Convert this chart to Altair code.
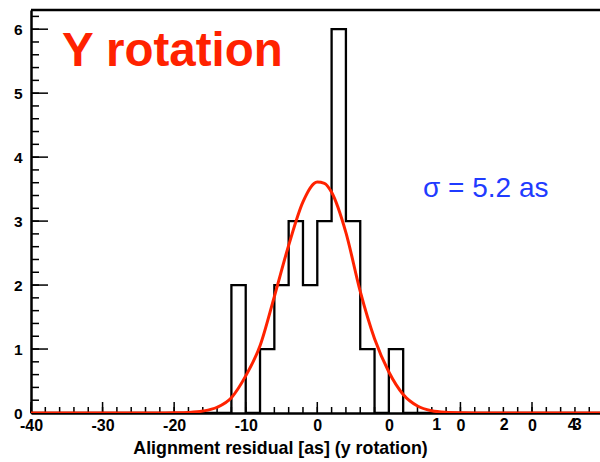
import altair as alt
import pandas as pd

# ---------------- data ----------------
bin_lefts = [-12, -10, -8, -6, -4, -2, 0, 2, 4, 6, 8, 10]
counts = [2, 0, 1, 2, 3, 2, 3, 6, 3, 1, 0, 1]

fit_x = [-40, -30, -22, -20, -18, -16, -14, -12, -10, -8, -6, -4, -2, 0, 1, 2, 4, 6, 8, 10, 12, 14, 16, 18, 20, 22, 30, 39.5]
fit_y = [0, 0, 0.001, 0.003, 0.009, 0.03, 0.09, 0.24, 0.58, 1.05, 1.82, 2.62, 3.3, 3.61, 3.59, 3.45, 2.82, 1.9, 1.16, 0.64, 0.29, 0.11, 0.035, 0.01, 0.003, 0.001, 0, 0]

x_tick_values = [-40, -30, -20, -10, 0, 10, 20, 30]
x_tick_labels = ["-40", "-30", "-20", "-10", "0", "0", "0", "0"]
stray_x = [16.7, 26.1, 35.6, 36.3]
stray_text = ["1", "2", "4", "3"]
y_tick_values = [0, 1, 2, 3, 4, 5, 6]

title_text = "Y rotation"
sigma_text = "σ = 5.2 as"
x_title = "Alignment residual [as] (y rotation)"

FONT = "Liberation Sans"
RED = "#ff2200"
BLUE = "#1f3bff"
W, H = 569, 403

# ---------------- tables ----------------
hx = [-40] + bin_lefts + [12, 39.5]
hy = [0] + counts + [0, 0]
hist_df = pd.DataFrame({"x": hx, "y": hy, "i": list(range(len(hx)))})
fit_df = pd.DataFrame({"x": fit_x, "y": fit_y})
stray_df = pd.DataFrame({"x": stray_x, "t": stray_text})
x_major_df = pd.DataFrame({"x": x_tick_values})
x_minor_df = pd.DataFrame({"x": [v for v in range(-40, 40, 2)]})
y_major_df = pd.DataFrame({"y": y_tick_values})
y_minor_df = pd.DataFrame({"y": [k / 5 for k in range(0, 32)]})

xscale = alt.Scale(domain=[-40, 39.5], nice=False, zero=False)
yscale = alt.Scale(domain=[0, 6.3], nice=False, zero=False)

label_expr = " : ".join(
    f"datum.value == {v} ? '{l}'" for v, l in zip(x_tick_values, x_tick_labels)
) + " : ''"

xaxis = alt.Axis(
    values=x_tick_values, labelExpr=label_expr, ticks=False, grid=False,
    domainColor="black", domainWidth=2.5, labelFont=FONT, labelFontWeight="bold",
    labelFontSize=16, labelColor="black", labelPadding=4, labelFlush=False,
    labelOverlap=False, title=x_title, titleFont=FONT, titleFontWeight="bold",
    titleFontSize=17.8, titleColor="black", titleX=249, titleY=40,
    titleBaseline="alphabetic", titleAlign="center",
)
yaxis = alt.Axis(
    values=y_tick_values, ticks=False, grid=False, domainColor="black",
    domainWidth=2.5, labelFont=FONT, labelFontWeight="bold", labelFontSize=15.5,
    labelColor="black", labelPadding=9, labelFlush=False, labelOverlap=False,
    title=None,
)

X = alt.X("x:Q", scale=xscale, axis=xaxis)
Y = alt.Y("y:Q", scale=yscale, axis=yaxis)

hist = alt.Chart(hist_df).mark_line(
    interpolate="step-after", color="black", strokeWidth=2.3, clip=True
).encode(x=X, y=Y, order=alt.Order("i:Q"))

fit = alt.Chart(fit_df).mark_line(
    interpolate="monotone", color=RED, strokeWidth=3, clip=True
).encode(x=X, y=Y)

xmaj = alt.Chart(x_major_df).mark_rule(color="black", strokeWidth=1.5).encode(
    x=X, y=alt.value(H), y2=alt.value(H - 11)
)
xmin = alt.Chart(x_minor_df).mark_rule(color="black", strokeWidth=1.5).encode(
    x=X, y=alt.value(H), y2=alt.value(H - 6)
)
ymaj = alt.Chart(y_major_df).mark_rule(color="black", strokeWidth=1.5).encode(
    y=Y, x=alt.value(0), x2=alt.value(17)
)
ymin = alt.Chart(y_minor_df).mark_rule(color="black", strokeWidth=1.5).encode(
    y=Y, x=alt.value(0), x2=alt.value(8)
)

top_frame = alt.Chart(pd.DataFrame({"a": [0]})).mark_rule(
    color="black", strokeWidth=2.5
).encode(y=alt.value(0), x=alt.value(0), x2=alt.value(W))

stray = alt.Chart(stray_df).mark_text(
    font=FONT, fontWeight="bold", fontSize=16, color="black", baseline="top",
    align="center",
).encode(x=X, y=alt.value(H + 4), text="t:N")

title = alt.Chart(pd.DataFrame({"t": [title_text]})).mark_text(
    font=FONT, fontWeight="bold", fontSize=47.5, color=RED, align="left",
    baseline="alphabetic",
).encode(x=alt.value(31), y=alt.value(56), text="t:N")

sigma = alt.Chart(pd.DataFrame({"t": [sigma_text]})).mark_text(
    font=FONT, fontSize=28, color=BLUE, align="left", baseline="alphabetic",
).encode(x=alt.value(392), y=alt.value(187), text="t:N")

chart = alt.layer(
    hist, xmin, xmaj, ymin, ymaj, top_frame, fit, stray, title, sigma
).properties(
    width=W, height=H, autosize="none",
    padding={"left": 31, "top": 10, "right": 0, "bottom": 49},
).configure_view(stroke=None).configure(background="white")

chart.save("out.html", embed_options={"renderer": "svg", "actions": False})
